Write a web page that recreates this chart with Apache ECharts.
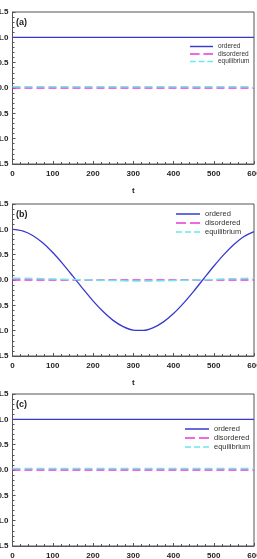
<!DOCTYPE html>
<html><head><meta charset="utf-8">
<script src="https://cdn.jsdelivr.net/npm/echarts@6/dist/echarts.min.js"></script>
<style>html,body{margin:0;padding:0;background:#fff}#c{width:257px;height:559px}</style>
</head><body><div id="c"></div>
<script>
const tVals = [0,25,50,75,100,125,150,175,200,225,250,275,300,325,350,375,400,425,450,475,500,525,550,575,600];
const yTicks = [-1.5,-1.0,-0.5,0.0,0.5,1.0,1.5];
const xTicks = [0,100,200,300,400,500,600];
const panelLabels = ['(a)','(b)','(c)'];
const seriesNames = ['ordered','disordered','equilibrium'];

const orderedA = [1,1,1,1,1,1,1,1,1,1,1,1,1,1,1,1,1,1,1,1,1,1,1,1,1];
const disorderedA = [0,0,0,0,0,0,0,0,0,0,0,0,0,0,0,0,0,0,0,0,0,0,0,0,0];
const equilibriumA = [0.025,0.025,0.025,0.025,0.025,0.025,0.025,0.025,0.025,0.025,0.025,0.025,0.025,0.025,0.025,0.025,0.025,0.025,0.025,0.025,0.025,0.025,0.025,0.025,0.025];

const orderedB = [1.0,0.969,0.878,0.733,0.542,0.319,0.075,-0.174,-0.412,-0.623,-0.797,-0.921,-0.989,-0.995,-0.94,-0.826,-0.662,-0.456,-0.223,0.025,0.271,0.5,0.7,0.858,0.955];
const disorderedB = [0,0,0,0,0,0,0,0,0,0,0,0,0,0,0,0,0,0,0,0,0,0,0,0,0];
const equilibriumB = [0.035,0.035,0.03,0.025,0.02,0.015,0.01,0.005,0,-0.005,-0.01,-0.015,-0.02,-0.02,-0.02,-0.015,-0.01,-0.005,0,0.005,0.01,0.02,0.025,0.03,0.035];

const orderedC = [1,1,1,1,1,1,1,1,1,1,1,1,1,1,1,1,1,1,1,1,1,1,1,1,1];
const disorderedC = [0,0,0,0,0,0,0,0,0,0,0,0,0,0,0,0,0,0,0,0,0,0,0,0,0];
const equilibriumC = [0.03,0.03,0.03,0.03,0.03,0.03,0.03,0.03,0.03,0.03,0.03,0.03,0.03,0.03,0.03,0.03,0.03,0.03,0.03,0.03,0.03,0.03,0.03,0.03,0.03];

const panels = [
  {o: orderedA, d: disorderedA, e: equilibriumA},
  {o: orderedB, d: disorderedB, e: equilibriumB},
  {o: orderedC, d: disorderedC, e: equilibriumC}
];

const tops = [12, 204, 394];
const H = 152, L = 12.5, W = 241.5;
const legendPos = [
  {left: 190, top: 43, font: 6.5, w: 23, gap: 0.5},
  {left: 176, top: 210, font: 7.5, w: 24, gap: 1},
  {left: 185, top: 425, font: 7.5, w: 24, gap: 1}
];
const colors = {ordered: '#3838d0', disordered: '#e838d8', equilibrium: '#6ee6ea'};
const legendIcons = {
  ordered: 'path://M0,0H24V1.5H0Z',
  disordered: 'path://M0,0H10V1.5H0Z M14,0H24V1.5H14Z',
  equilibrium: 'path://M0,0H6V1.5H0Z M9,0H15V1.5H9Z M18,0H24V1.5H18Z'
};
const axisCol = '#555';
const font = 'Liberation Sans, Arial, sans-serif';

const option = {
  animation: false,
  backgroundColor: '#fff',
  grid: [], xAxis: [], yAxis: [], series: [], legend: [], title: []
};

panels.forEach((p, i) => {
  option.grid.push({left: L, top: tops[i], width: W, height: H, show: true, borderColor: axisCol, borderWidth: 1,
    containLabel: false, outerBoundsMode: 'none'});
  option.xAxis.push({
    gridIndex: i, type: 'value', min: xTicks[0], max: xTicks[xTicks.length-1], interval: 100,
    name: 't', nameLocation: 'middle', nameGap: 23,
    nameTextStyle: {fontFamily: font, fontWeight: 'bold', fontSize: 8, color: '#222'},
    axisLine: {onZero: false, lineStyle: {color: axisCol, width: 1}},
    axisTick: {inside: true, length: 3, lineStyle: {color: axisCol}},
    minorTick: {show: true, splitNumber: 5, length: 2, lineStyle: {color: axisCol}},
    splitLine: {show: false},
    axisLabel: {fontFamily: font, fontWeight: 'bold', fontSize: 8, color: '#222', margin: 6}
  });
  option.yAxis.push({
    gridIndex: i, type: 'value', min: yTicks[0], max: yTicks[yTicks.length-1], interval: 0.5,
    axisLine: {show: true, onZero: false, lineStyle: {color: axisCol, width: 1}},
    axisTick: {show: true, inside: true, length: 3, lineStyle: {color: axisCol}},
    minorTick: {show: true, splitNumber: 5, length: 2, lineStyle: {color: axisCol}},
    splitLine: {show: false},
    axisLabel: {fontFamily: font, fontWeight: 'bold', fontSize: 8, color: '#222', margin: 4,
      formatter: v => v.toFixed(1)}
  });
  const data = {ordered: p.o, disordered: p.d, equilibrium: p.e};
  seriesNames.forEach(n => {
    option.series.push({
      name: n, type: 'line', xAxisIndex: i, yAxisIndex: i, showSymbol: false, symbol: 'none',
      smooth: n === 'ordered' && i === 1 ? 0.3 : false,
      z: n === 'ordered' ? 3 : (n === 'disordered' ? 2 : 4),
      data: tVals.map((t, k) => [t, data[n][k]]),
      lineStyle: {color: colors[n], width: n === 'ordered' ? 1.3 : 1.5,
        type: n === 'ordered' ? 'solid' : [8, 4]},
      itemStyle: {color: colors[n]}
    });
  });
  const lp = legendPos[i];
  option.legend.push({
    show: true, orient: 'vertical', left: lp.left, top: lp.top, itemWidth: lp.w, itemHeight: 8, itemGap: lp.gap,
    padding: 0, selectedMode: false, symbolKeepAspect: true,
    data: seriesNames.map(n => ({name: n, icon: legendIcons[n], itemStyle: {color: colors[n]}})),
    textStyle: {fontFamily: font, fontSize: lp.font, color: '#333'}
  });
  option.title.push({text: panelLabels[i], left: 16, top: tops[i] + 6, padding: 0,
    textStyle: {fontFamily: font, fontWeight: 'bold', fontSize: 9, color: '#222'}});
});

const chart = echarts.init(document.getElementById('c'), null, {renderer: 'canvas'});
chart.setOption(option);
</script></body></html>
